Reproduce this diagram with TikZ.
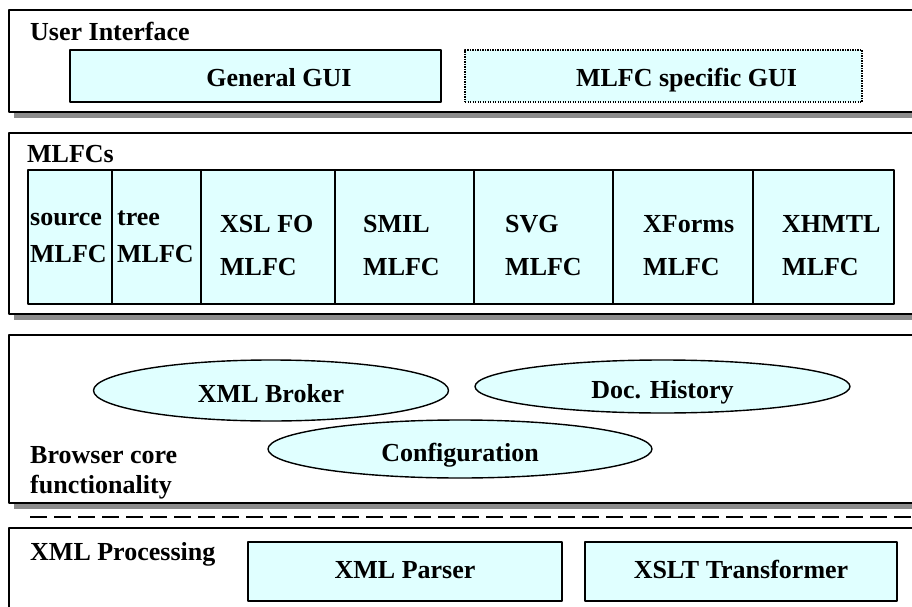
\documentclass[tikz,border=0pt]{standalone}
\usepackage{fontspec}
\setmainfont{Liberation Serif}
\usetikzlibrary{shapes.geometric}
\definecolor{boxfill}{RGB}{224,255,255}
\definecolor{shadowgray}{RGB}{140,140,140}
\tikzset{
	layer/.style={draw=black, line width=1.8pt, fill=white},
	layershadow/.style={fill=shadowgray, draw=none},
	part/.style={rectangle, draw=black, line width=1.4pt, fill=boxfill, inner sep=0pt},
	extrapart/.style={part, line width=1.2pt, dash pattern=on 1.2pt off 1.3pt},
	module/.style={ellipse, draw=black, line width=1.4pt, fill=boxfill, inner sep=0pt, text height=24pt, text depth=0pt},
	title/.style={anchor=base west, inner sep=0pt},
	caption/.style={anchor=base, inner sep=0pt}
}
\begin{document}
\begin{tikzpicture}[x=1pt, y=-1pt, line join=round, font=\fontsize{26}{30}\selectfont\bfseries]
	%%%%%%%%%%%%%%%%%%%%%%%%%%%%%%%%%
	\clip (0,0) rectangle (912,607);
	\coordinate (UI1) at (9,10);
	\coordinate (UI2) at (930,112);
	\coordinate (ML1) at (9,133);
	\coordinate (ML2) at (930,314);
	\coordinate (BC1) at (9,335);
	\coordinate (BC2) at (930,503);
	\coordinate (XP1) at (9,528);
	\coordinate (XP2) at (930,640);
	\coordinate (DL) at (30,517);
	\coordinate (DR) at (912,517);
	%%%%%%%%%%%%%%%%%%%%%%%%%%%%%%%%%
	\begin{scope}[layershadow]
		\fill ([shift={(5,6)}]UI1) rectangle ([shift={(5,6)}]UI2);
		\fill ([shift={(5,6)}]ML1) rectangle ([shift={(5,6)}]ML2);
		\fill ([shift={(5,6)}]BC1) rectangle ([shift={(5,6)}]BC2);
	\end{scope}
	\draw[layer] (UI1) rectangle (UI2);
	\draw[layer] (ML1) rectangle (ML2);
	\draw[layer] (BC1) rectangle (BC2);
	\draw[layer] (XP1) rectangle (XP2);
	\draw[line width=1.5pt, dash pattern=on 17pt off 7pt] (DL) -- (DR);
	%%%%%%%%%%%%%%%%%%%%%%%%%%%%%%%%%
	% user interface
	\node[title] (uiTitle) at (30,41) {User Interface};
	\node[part, minimum width=371, minimum height=52] (genGUI) at (255.5,76) {};
	\node[extrapart, minimum width=397, minimum height=52] (mlfcGUI) at (663.5,76) {};
	\node[caption] (genGUItxt) at (279,87) {General GUI};
	\node[caption] (mlfcGUItxt) at (686.5,87) {MLFC specific GUI};
	%%%%%%%%%%%%%%%%%%%%%%%%%%%%%%%%%
	% MLFCs
	\node[title] (mlTitle) at (27,162) {MLFCs};
	\node[part, minimum width=84, minimum height=134] (srcBox) at (70,237) {};
	\node[part, minimum width=89, minimum height=134] (treeBox) at (156.5,237) {};
	\node[part, minimum width=134, minimum height=134] (xslBox) at (268,237) {};
	\node[part, minimum width=139, minimum height=134] (smilBox) at (404.5,237) {};
	\node[part, minimum width=139, minimum height=134] (svgBox) at (543.5,237) {};
	\node[part, minimum width=140, minimum height=134] (xfBox) at (683,237) {};
	\node[part, minimum width=141, minimum height=134] (xhBox) at (823.5,237) {};
	\node[title] (srcA) at (30,225) {source};
	\node[title] (srcB) at (30,262) {MLFC};
	\node[title] (treeA) at (117,225) {tree};
	\node[title] (treeB) at (117,262) {MLFC};
	\node[title] (xslA) at (220,232) {XSL FO};
	\node[title] (xslB) at (220,275) {MLFC};
	\node[title] (smilA) at (363,232) {SMIL};
	\node[title] (smilB) at (363,275) {MLFC};
	\node[title] (svgA) at (505,232) {SVG};
	\node[title] (svgB) at (505,275) {MLFC};
	\node[title] (xfA) at (643,232) {XForms};
	\node[title] (xfB) at (643,275) {MLFC};
	\node[title] (xhA) at (782,232) {XHMTL};
	\node[title] (xhB) at (782,275) {MLFC};
	%%%%%%%%%%%%%%%%%%%%%%%%%%%%%%%%%
	% browser core
	\node[module, minimum width=355, minimum height=61] (broker) at (271,390.5) {XML Broker};
	\node[module, minimum width=375, minimum height=53] (history) at (662.5,386.5) {Doc. History};
	\node[module, minimum width=384, minimum height=58] (config) at (460,449) {Configuration};
	\node[title] (bcA) at (30,463) {Browser core};
	\node[title] (bcB) at (30,493) {functionality};
	%%%%%%%%%%%%%%%%%%%%%%%%%%%%%%%%%
	% XML processing
	\node[title] (xpTitle) at (30,560) {XML Processing};
	\node[part, minimum width=314, minimum height=59, text height=13pt, text depth=0pt] (parser) at (405,571.5) {XML Parser};
	\node[part, minimum width=312, minimum height=59, text height=13pt, text depth=0pt] (xslt) at (741,571.5) {XSLT Transformer};
	%%%%%%%%%%%%%%%%%%%%%%%%%%%%%%%%%
\end{tikzpicture}
\end{document}
